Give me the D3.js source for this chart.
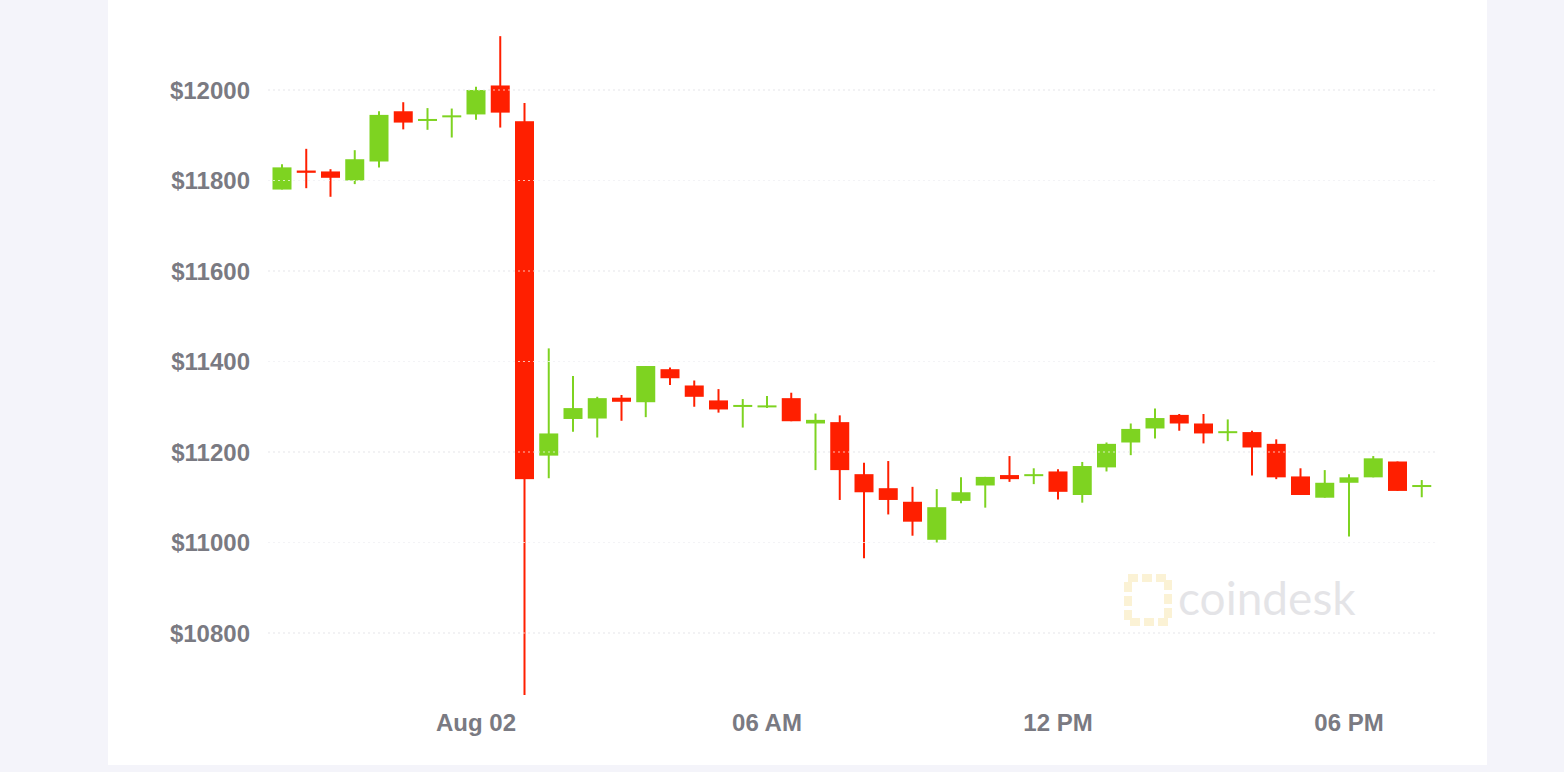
<!DOCTYPE html>
<html>
<head>
<meta charset="utf-8">
<script src="https://cdn.jsdelivr.net/npm/d3@7"></script>
<style>
  body { margin: 0; background: #f4f4fa; }
  svg { display: block; }
</style>
</head>
<body>
<div id="chart"></div>
<script>
// 30-minute candles starting Aug 1 20:00
const opens  = [11780,11822,11820,11800,11842,11953,11934,11941,11946,12010,11931,11192,11273,11274,11320,11310,
                11383,11347,11314,11301,11301,11319,11263,11266,11151,11120,11090,11006,11092,11126,11149,11149,
                11157,11105,11166,11221,11252,11282,11263,11244,11244,11218,11146,11099,11132,11144,11179,11125];
const closes = [11829,11817,11806,11847,11945,11928,11936,11944,12000,11950,11140,11241,11297,11319,11311,11390,
                11363,11322,11294,11304,11303,11268,11271,11160,11111,11094,11046,11078,11111,11145,11140,11151,
                11112,11169,11218,11251,11275,11263,11241,11246,11210,11144,11105,11132,11144,11186,11114,11127];
const highs  = [11836,11870,11825,11867,11953,11973,11960,11959,12007,12119,11971,11429,11368,11322,11326,11390,
                11387,11358,11339,11317,11324,11331,11285,11281,11176,11180,11123,11118,11144,11145,11191,11164,
                11162,11178,11221,11263,11296,11284,11284,11272,11247,11228,11164,11160,11151,11191,11179,11138];
const lows   = [11780,11783,11764,11792,11829,11913,11912,11895,11934,11917,10663,11142,11245,11232,11269,11277,
                11348,11300,11287,11254,11297,11268,11160,11094,10965,11062,11015,11000,11087,11077,11134,11129,
                11095,11088,11157,11193,11230,11247,11219,11224,11148,11140,11105,11099,11013,11144,11114,11100];
const yTicks = [10800, 11000, 11200, 11400, 11600, 11800, 12000];
const xTickLabels = ["Aug 02", "06 AM", "12 PM", "06 PM"];

const width = 1564, height = 772;
const start = new Date(2019, 7, 1, 20, 0);
const candles = opens.map((o, i) => ({
  t: new Date(start.getTime() + i * 30 * 60000),
  o, c: closes[i], h: highs[i], l: lows[i]
}));

const svg = d3.select("#chart").append("svg")
  .attr("width", width).attr("height", height);

svg.append("rect").attr("x", 108).attr("y", 0).attr("width", 1379).attr("height", 765).attr("fill", "#fff");

const x = d3.scaleTime()
  .domain([new Date(2019, 7, 2, 0, 0), new Date(2019, 7, 2, 18, 0)])
  .range([476, 1349]);
const y = d3.scaleLinear().domain([10800, 12000]).range([633, 90]);
const font = "'Liberation Sans', Arial, sans-serif";

// grid
svg.append("g").selectAll("line").data(yTicks).join("line")
  .attr("x1", 268).attr("x2", 1437)
  .attr("y1", d => y(d)).attr("y2", d => y(d))
  .attr("stroke", "#d8d8e0").attr("stroke-width", 1.2).attr("stroke-dasharray", "2,3");

// y labels
svg.append("g").selectAll("text").data(yTicks).join("text")
  .attr("x", 250).attr("y", d => y(d)).attr("dy", "0.36em")
  .attr("text-anchor", "end")
  .attr("font-family", font).attr("font-weight", "bold")
  .attr("font-size", 24).attr("fill", "#7a7a82")
  .text(d => "$" + d);

// x labels
const xTicks = [0, 6, 12, 18].map(h => new Date(2019, 7, 2, h, 0));
svg.append("g").selectAll("text").data(xTicks).join("text")
  .attr("x", d => x(d)).attr("y", 731)
  .attr("text-anchor", "middle")
  .attr("font-family", font).attr("font-weight", "bold")
  .attr("font-size", 24).attr("fill", "#7a7a82")
  .text((d, i) => xTickLabels[i]);

// watermark
const wm = svg.append("g").attr("opacity", 0.35);
wm.append("rect").attr("x", 1128).attr("y", 578).attr("width", 40).attr("height", 44)
  .attr("fill", "none").attr("stroke", "#f5dc8a").attr("stroke-width", 8).attr("stroke-dasharray", "10,4");
wm.append("text").attr("x", 1178).attr("y", 615)
  .attr("font-family", "Lato, 'Open Sans', sans-serif").attr("font-size", 46)
  .attr("fill", "#b5b5bd").text("coindesk");

// candles
const green = "#7ed321", red = "#ff1f00";
const cw = 19;
const g = svg.append("g").selectAll("g").data(candles).join("g");
g.append("line")
  .attr("x1", d => x(d.t)).attr("x2", d => x(d.t))
  .attr("y1", d => y(d.h)).attr("y2", d => y(d.l))
  .attr("stroke", d => d.c >= d.o ? green : red).attr("stroke-width", 2);
g.append("rect")
  .attr("x", d => x(d.t) - cw / 2).attr("width", cw)
  .attr("y", d => y(Math.max(d.o, d.c)))
  .attr("height", d => Math.max(2, Math.abs(y(d.o) - y(d.c))))
  .attr("fill", d => d.c >= d.o ? green : red);

// gridline dots drawn over candles as in the original
svg.append("g").selectAll("line").data(yTicks).join("line")
  .attr("x1", 268).attr("x2", 1437)
  .attr("y1", d => y(d)).attr("y2", d => y(d))
  .attr("stroke", "#ffffff").attr("stroke-opacity", 0.7).attr("stroke-width", 1.2).attr("stroke-dasharray", "2,3");
</script>
</body>
</html>
